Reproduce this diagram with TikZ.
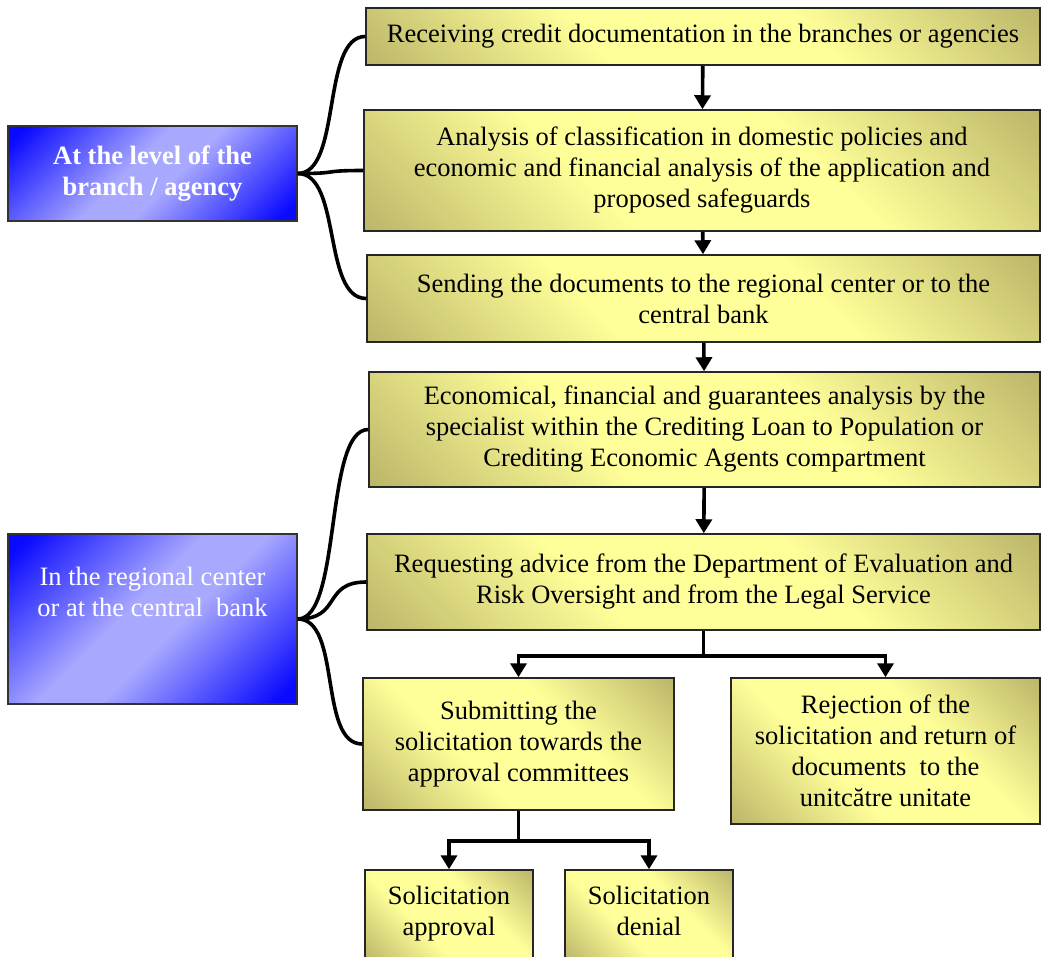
\documentclass[tikz,border=0pt]{standalone}
\usepackage{fontspec}
\setmainfont{Liberation Serif}
\usetikzlibrary{arrows.meta}

\definecolor{olv}{RGB}{186,180,104}
\definecolor{ylw}{RGB}{255,255,153}
\definecolor{dkblue}{RGB}{10,10,255}
\definecolor{ltblue}{RGB}{168,168,255}
\pgfdeclarehorizontalshading{yelband}{100bp}{color(0bp)=(olv); color(14bp)=(olv); color(39bp)=(ylw); color(61bp)=(ylw); color(86bp)=(olv); color(100bp)=(olv)}
\pgfdeclarehorizontalshading{blueband}{100bp}{color(0bp)=(dkblue); color(18bp)=(dkblue); color(45bp)=(ltblue); color(55bp)=(ltblue); color(82bp)=(dkblue); color(100bp)=(dkblue)}

\newcommand{\bigtxt}{\fontsize{26.5}{31}\selectfont}

\tikzset{
  stepbox/.style={draw=black!85, line width=1.5pt, shade, shading=yelband, shading angle=45,
    align=center, inner sep=0pt, font=\bigtxt},
  levelbox/.style={draw=black!80, line width=1.5pt, shade, shading=blueband, shading angle=-45,
    inner sep=0pt, minimum width=289pt},
  leveltext/.style={text=white, align=center, font=\bigtxt},
  conn/.style={line width=3.6pt, black},
  flow/.style={conn, -{Triangle[width=16pt,length=14pt]}}
}

\begin{document}
\begin{tikzpicture}[x=1pt,y=-1pt]
   \useasboundingbox (0,0) rectangle (1044,956);

   \node[levelbox, minimum height=95pt, leveltext] (branch) at (152.5,173.5)
     {\bfseries At the level of the\\ \bfseries branch / agency};
   \node[levelbox, minimum height=170pt] (center) at (152.5,619) {};
   \node[leveltext] (centertxt) at ([yshift=27pt]center.center)
     {In the regional center\\or at the central~ bank};

   \node[stepbox, minimum width=674pt, minimum height=57pt] (receive) at (703,36.5)
     {Receiving credit documentation in the branches or agencies};
   \node[stepbox, minimum width=676pt, minimum height=121pt] (analysis) at (702,170.5)
     {Analysis of classification in domestic policies and\\
      economic and financial analysis of the application and\\
      proposed safeguards};
   \node[stepbox, minimum width=673pt, minimum height=87pt] (send) at (703.5,298.5)
     {Sending the documents to the regional center or to the\\ central bank};
   \node[stepbox, minimum width=671pt, minimum height=115pt] (econ) at (704.5,429.5)
     {Economical, financial and guarantees analysis by the\\
      specialist within the Crediting Loan to Population or\\
      Crediting Economic Agents compartment};
   \node[stepbox, minimum width=673pt, minimum height=96pt] (advice) at (703.5,582)
     {Requesting advice from the Department of Evaluation and\\
      Risk Oversight and from the Legal Service};
   \node[stepbox, minimum width=311pt, minimum height=132pt] (submit) at (518.5,744)
     {Submitting the\\ solicitation towards the\\ approval committees};
   \node[stepbox, minimum width=309pt, minimum height=146pt] (reject) at (885.5,751)
     {Rejection of the\\ solicitation and return of\\ documents~ to the\\ unitcătre unitate};
   \node[stepbox, minimum width=168pt, minimum height=90pt] (approve) at (449,915)
     {Solicitation\\ approval\strut};
   \node[stepbox, minimum width=168pt, minimum height=90pt] (deny) at (649,915)
     {Solicitation\\ denial\strut};

   \foreach \b in {receive,analysis,send} {
     \draw[conn] (branch.east) .. controls +(44,0) and +(-44,0) .. (\b.west);
   }
   \foreach \b in {econ,advice,submit} {
     \draw[conn] (center.east) .. controls +(44,0) and +(-44,0) .. (\b.west);
   }

   \draw[flow] (receive) -- (analysis);
   \draw[flow] (analysis) -- (send);
   \draw[flow] (send) -- (econ);
   \draw[flow] (econ) -- (advice);
   \draw[flow] (advice.south) -- ++(0,25) -| (submit.north);
   \draw[flow] (advice.south) -- ++(0,25) -| (reject.north);
   \draw[flow] (submit.south) -- ++(0,30) -| (approve.north);
   \draw[flow] (submit.south) -- ++(0,30) -| (deny.north);
\end{tikzpicture}
\end{document}
